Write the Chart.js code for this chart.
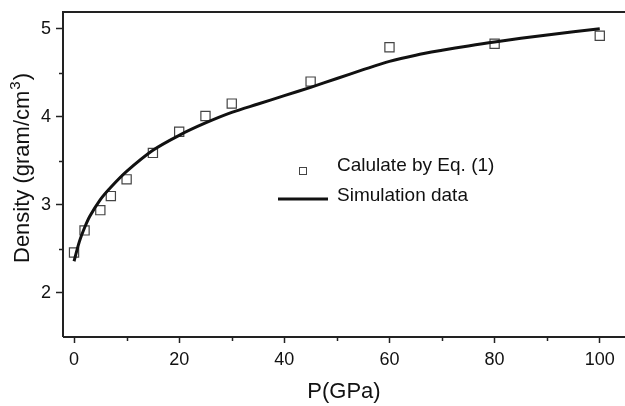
<!DOCTYPE html>
<html>
<head>
<meta charset="utf-8">
<script src="https://cdn.jsdelivr.net/npm/chart.js@4"></script>
<style>
  html,body{margin:0;padding:0;background:#fff;overflow:hidden;}
  canvas{display:block;}
</style>
</head>
<body>
<canvas id="c" width="625" height="406"></canvas>
<script>
// values
const calcP       = [0, 2, 5, 7, 10, 15, 20, 25, 30, 45, 60, 80, 100];
const calcDensity = [2.46, 2.71, 2.94, 3.10, 3.29, 3.59, 3.83, 4.01, 4.15, 4.40, 4.79, 4.83, 4.92];

const simP       = [0, 1, 2, 3, 5, 7, 10, 15, 20, 25, 30, 35, 40, 45, 50, 55, 60, 65, 70, 75, 80, 90, 100];
const simDensity = [2.36, 2.58, 2.74, 2.87, 3.06, 3.20, 3.38, 3.62, 3.79, 3.93, 4.05, 4.145, 4.24, 4.335, 4.435, 4.535, 4.63, 4.70, 4.755, 4.805, 4.85, 4.93, 5.00];

const xMinorTicks = [10, 30, 50, 70, 90];
const yMinorTicks = [2.5, 3.5, 4.5];

const legendItems = ['Calulate by Eq. (1)', 'Simulation data'];
const yTitle = ['Density (gram/cm', '3', ')'];

const FONT = '"Liberation Sans", Arial, sans-serif';
const AXIS = '#222';

// frame, minor ticks, y title with superscript, legend
const extras = {
  id: 'extras',
  afterDraw(chart){
    const {ctx, chartArea:a, scales:{x, y}} = chart;
    ctx.save();
    ctx.strokeStyle = AXIS;
    ctx.lineWidth = 2;
    ctx.beginPath();
    ctx.moveTo(a.left, a.bottom); ctx.lineTo(a.right, a.bottom);
    ctx.moveTo(a.left, a.bottom); ctx.lineTo(a.left, a.top);
    ctx.lineTo(a.right, a.top);
    ctx.stroke();

    ctx.lineWidth = 1.5;
    ctx.beginPath();
    xMinorTicks.forEach(v => {
      const px = Math.round(x.getPixelForValue(v)) + 0.5;
      ctx.moveTo(px, a.bottom); ctx.lineTo(px, a.bottom + 4);
    });
    yMinorTicks.forEach(v => {
      const py = Math.round(y.getPixelForValue(v)) + 0.5;
      ctx.moveTo(a.left, py); ctx.lineTo(a.left - 4, py);
    });
    ctx.stroke();

    // y title
    ctx.save();
    ctx.translate(29, 263);
    ctx.rotate(-Math.PI / 2);
    ctx.fillStyle = '#111';
    ctx.textBaseline = 'alphabetic';
    ctx.textAlign = 'left';
    ctx.font = '22px ' + FONT;
    let cx = 0;
    ctx.fillText(yTitle[0], cx, 0);
    cx += ctx.measureText(yTitle[0]).width + 1;
    ctx.font = '15px ' + FONT;
    ctx.fillText(yTitle[1], cx, -9);
    cx += ctx.measureText(yTitle[1]).width + 1;
    ctx.font = '22px ' + FONT;
    ctx.fillText(yTitle[2], cx, 0);
    ctx.restore();

    // legend
    ctx.font = '19px ' + FONT;
    ctx.fillStyle = '#111';
    ctx.textBaseline = 'middle';
    ctx.textAlign = 'left';
    ctx.strokeStyle = '#444';
    ctx.lineWidth = 1;
    ctx.strokeRect(299.5, 167.5, 7, 7);
    ctx.fillText(legendItems[0], 337, 166);
    ctx.strokeStyle = '#111';
    ctx.lineWidth = 3;
    ctx.beginPath();
    ctx.moveTo(278, 199); ctx.lineTo(328, 199);
    ctx.stroke();
    ctx.fillText(legendItems[1], 337, 196);
    ctx.restore();
  }
};

new Chart(document.getElementById('c'), {
  type: 'scatter',
  data: {
    datasets: [
      {
        label: legendItems[1],
        data: simP.map((p, i) => ({x: p, y: simDensity[i]})),
        showLine: true,
        borderColor: '#111',
        borderWidth: 3,
        pointRadius: 0,
        tension: 0.3
      },
      {
        label: legendItems[0],
        data: calcP.map((p, i) => ({x: p, y: calcDensity[i]})),
        pointStyle: 'rect',
        pointRadius: 6.5,
        pointBorderWidth: 1.2,
        borderColor: '#444',
        backgroundColor: 'rgba(0,0,0,0)'
      }
    ]
  },
  options: {
    responsive: false,
    animation: false,
    devicePixelRatio: 1,
    layout: {autoPadding: false, padding: {top: 12, right: 0, left: 0, bottom: 0}},
    plugins: {legend: {display: false}, tooltip: {enabled: false}},
    scales: {
      x: {
        type: 'linear',
        min: -2.1, max: 104.8,
        afterBuildTicks: s => { s.ticks = [0, 20, 40, 60, 80, 100].map(v => ({value: v})); },
        afterFit: s => { s.height = 69; s.paddingLeft = 0; s.paddingRight = 0; },
        border: {display: false},
        grid: {drawOnChartArea: false, drawTicks: true, tickLength: 6, tickColor: AXIS, tickWidth: 1.5},
        ticks: {color: '#111', font: {family: FONT, size: 18}, padding: 6, maxRotation: 0},
        title: {display: true, text: 'P(GPa)', color: '#111', font: {family: FONT, size: 22}, padding: {top: 0, bottom: 1}}
      },
      y: {
        min: 1.5, max: 5.19,
        afterBuildTicks: s => { s.ticks = [2, 3, 4, 5].map(v => ({value: v})); },
        afterFit: s => { s.width = 63; s.paddingTop = 0; s.paddingBottom = 0; },
        border: {display: false},
        grid: {drawOnChartArea: false, drawTicks: true, tickLength: 7, tickColor: AXIS, tickWidth: 1.5},
        ticks: {color: '#111', font: {family: FONT, size: 18}, padding: 5}
      }
    }
  },
  plugins: [extras]
});
</script>
</body>
</html>
